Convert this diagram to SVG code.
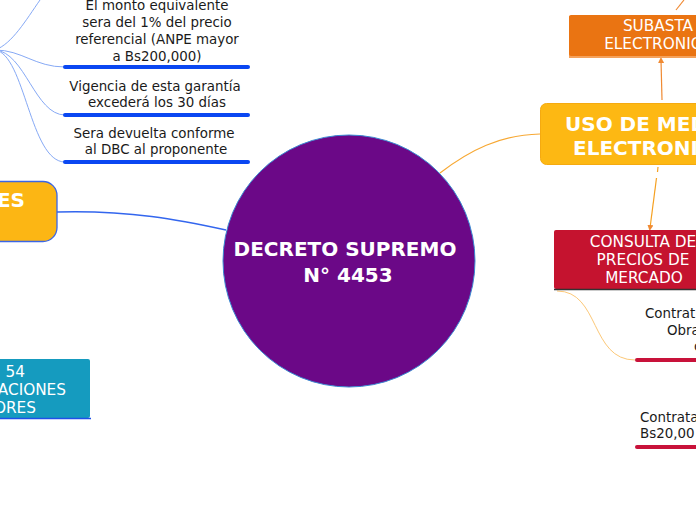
<svg xmlns="http://www.w3.org/2000/svg" width="696" height="520" viewBox="0 0 696 520">
<style>
.t{font-family:"DejaVu Sans",Verdana,sans-serif;font-size:13.4px;fill:#1a1a1a}
.w{font-family:"DejaVu Sans",Verdana,sans-serif;font-size:15.3px;fill:#fff}
.b{font-family:"DejaVu Sans",Verdana,sans-serif;font-size:20px;font-weight:bold;fill:#fff}
.ub{stroke:#0a47f2;stroke-width:4;stroke-linecap:round}
.ur{stroke:#c8123a;stroke-width:4;stroke-linecap:round}
.lb{fill:none;stroke:#86a9f5;stroke-width:1}
</style>
<defs>
<marker id="ah" viewBox="0 0 10 10" refX="5" refY="5" markerWidth="5" markerHeight="5" orient="auto-start-reverse">
<path d="M0,0 L10,5 L0,10 z" fill="#f08a33"/>
</marker>
</defs>
<rect width="696" height="520" fill="#fff"/>
<g id="connectors">
<path class="lb" d="M-5,50 C12,44 26,20 40,0"/>
<path class="lb" d="M-5,50 C22,50 35,67 65,67"/>
<path class="lb" d="M-5,50 C25,52 35,115 65,115"/>
<path class="lb" d="M-5,50 C25,54 30,162 65,162"/>
<path d="M57,212 C130,210 180,220 226,230" fill="none" stroke="#3366ee" stroke-width="1.3"/>
<path d="M440,173 C470,150 500,135 540,134" fill="none" stroke="#f7a833" stroke-width="1.2"/>
<path d="M676,10 L684,0" stroke="#f08a33" stroke-width="1.2"/>
<line x1="662" y1="100" x2="661" y2="60" stroke="#f08a33" stroke-width="1.2" marker-end="url(#ah)"/>
<line x1="658" y1="167" x2="657.5" y2="172" stroke="#f5a020" stroke-width="1.2"/>
<line x1="656.5" y1="178" x2="650" y2="228" stroke="#f5a020" stroke-width="1.2" marker-end="url(#ah)"/>
<path d="M557,291 C600,291 590,360 635,360" fill="none" stroke="#fcc878" stroke-width="1"/>
</g>
<g id="center">
<circle cx="349" cy="261" r="126" fill="#6b0887" stroke="#3a8ad2" stroke-width="1"/>
<text class="b" x="345" y="256" text-anchor="middle" font-size="20.3">DECRETO SUPREMO</text>
<text class="b" x="348" y="282" text-anchor="middle" font-size="20.3">N° 4453</text>
</g>
<g id="monto">
<text class="t" text-anchor="middle"><tspan x="157" y="10">El monto equivalente</tspan><tspan x="157" y="27">sera del 1% del precio</tspan><tspan x="157" y="44">referencial (ANPE mayor</tspan><tspan x="157" y="61">a Bs200,000)</tspan></text>
<line class="ub" x1="65" y1="67" x2="248" y2="67"/>
</g>
<g id="vigencia">
<text class="t" text-anchor="middle"><tspan x="155" y="91">Vigencia de esta garantía</tspan><tspan x="157" y="107">excederá los 30 días</tspan></text>
<line class="ub" x1="65" y1="115" x2="248" y2="115"/>
</g>
<g id="devuelta">
<text class="t" text-anchor="middle"><tspan x="154" y="138">Sera devuelta conforme</tspan><tspan x="156" y="154">al DBC al proponente</tspan></text>
<line class="ub" x1="65" y1="162" x2="248" y2="162"/>
</g>
<g id="garantias">
<rect x="-40" y="181.5" width="97" height="60" rx="14" fill="#fcb614" stroke="#3a66e6" stroke-width="1.3"/>
<text class="b" x="25" y="207" text-anchor="end">ES</text>
</g>
<g id="art54">
<rect x="-40" y="359" width="130" height="59" rx="2" fill="#159bbf"/>
<line x1="0" y1="418.5" x2="91" y2="418.5" stroke="#1f4fe8" stroke-width="1.5"/>
<text class="w" x="25" y="377" text-anchor="end" font-size="15">54</text>
<text class="w" x="66" y="395" text-anchor="end" font-size="15">ACIONES</text>
<text class="w" x="36" y="413" text-anchor="end" font-size="15">ORES</text>
</g>
<g id="subasta">
<rect x="569" y="16" width="140" height="42" fill="#f5a25c"/>
<rect x="569" y="15" width="140" height="41" rx="2" fill="#ea7412"/>
<text class="w" x="658" y="31" text-anchor="middle">SUBASTA</text>
<text class="w" x="658" y="49" text-anchor="middle">ELECTRONICA</text>
</g>
<g id="uso">
<rect x="540.5" y="103.5" width="180" height="61" rx="6" fill="#fdb813" stroke="#f5aa10" stroke-width="1"/>
<text class="b" x="565" y="131">USO DE MEDIOS</text>
<text class="b" x="573" y="155">ELECTRONICOS</text>
</g>
<g id="consulta">
<rect x="554" y="230" width="160" height="59" rx="2" fill="#c5132f"/>
<line x1="554" y1="289.5" x2="696" y2="289.5" stroke="#333" stroke-width="1.3"/>
<text class="w" text-anchor="middle"><tspan x="643" y="247">CONSULTA DE</tspan><tspan x="643" y="265">PRECIOS DE</tspan><tspan x="644" y="283">MERCADO</tspan></text>
</g>
<g id="obras">
<text class="t" x="645" y="318" font-size="14">Contrat</text>
<text class="t" x="667" y="335" font-size="14">Obra</text>
<text class="t" x="694" y="351" font-size="14">c</text>
<line class="ur" x1="637" y1="360" x2="700" y2="360"/>
</g>
<g id="bs20">
<text class="t" x="640" y="422" font-size="14">Contrata</text>
<text class="t" x="640" y="438" font-size="14">Bs20,00</text>
<line class="ur" x1="637" y1="447" x2="700" y2="447"/>
</g>
</svg>
